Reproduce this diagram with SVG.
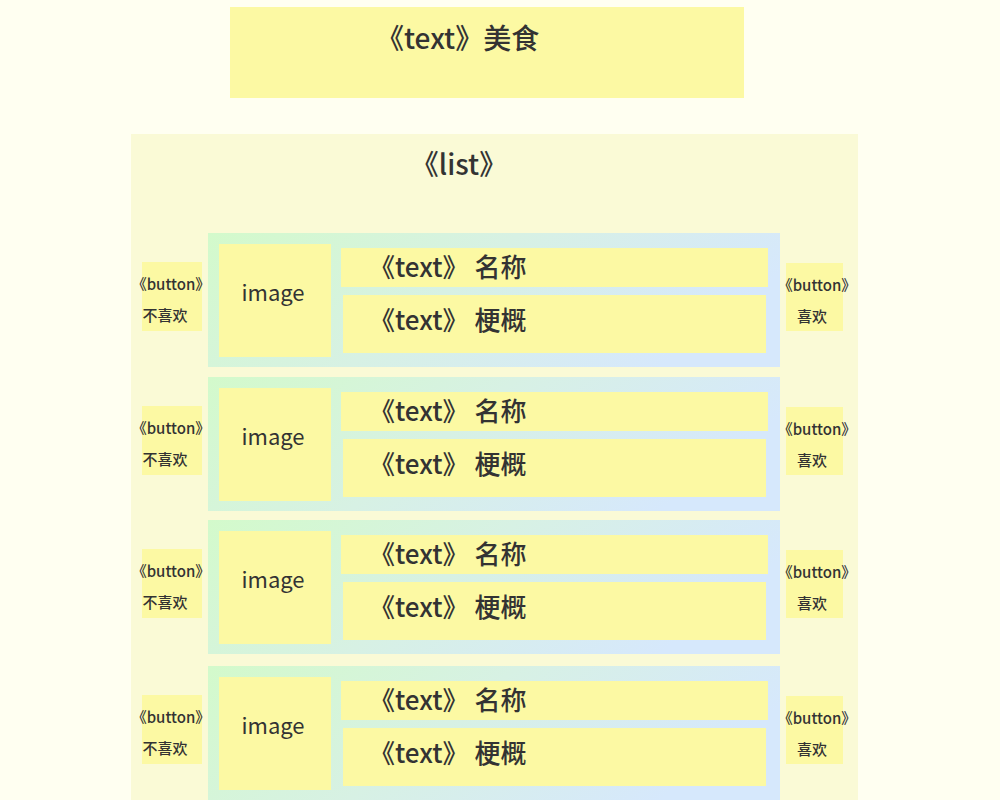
<svg xmlns="http://www.w3.org/2000/svg" width="1000" height="800" viewBox="0 0 1000 800">
<style>
.y{fill:#fcf9a3}
.t{font-family:"Noto Sans CJK SC","Noto Sans",sans-serif;fill:#333333;font-weight:500}
.big{font-size:28px}
.mid{font-size:26px}
.img{font-size:22px;text-anchor:middle;font-weight:400}
.btn{font-size:15px;text-anchor:middle}
</style>
<defs>
<linearGradient id="rowg" x1="0" y1="0" x2="1" y2="0.3">
<stop offset="0" stop-color="#d3facb"/>
<stop offset="0.5" stop-color="#d7f1e4"/>
<stop offset="1" stop-color="#d6e8fc"/>
</linearGradient>
</defs>
<rect width="1000" height="800" fill="#fffff1"/>
<g id="title">
<rect class="y" x="230" y="7" width="514" height="91"/>
<text class="t big" x="376" y="49">《text》美食</text>
</g>
<g id="list">
<rect x="131" y="134" width="727" height="670" fill="#fafad6"/>
<text class="t big" x="459" y="175" text-anchor="middle">《list》</text>
</g>
<g id="row1" transform="translate(0,0)">
<rect x="208" y="233" width="572" height="134" fill="url(#rowg)"/>
<rect class="y" x="219" y="244" width="112" height="113"/>
<text class="t img" x="273" y="301">image</text>
<rect class="y" x="341" y="248" width="427" height="39"/>
<text class="t mid" x="369" y="277">《text》 名称</text>
<rect class="y" x="343" y="295" width="423" height="58"/>
<text class="t mid" x="369" y="330">《text》 梗概</text>
<rect class="y" x="142" y="262" width="60" height="69"/>
<text class="t btn" x="171" y="290">《button》</text>
<text class="t btn" x="165" y="321">不喜欢</text>
<rect class="y" x="786" y="263" width="57" height="68"/>
<text class="t btn" x="817" y="291">《button》</text>
<text class="t btn" x="812" y="322">喜欢</text>
</g>
<g id="row2" transform="translate(0,144)">
<rect x="208" y="233" width="572" height="134" fill="url(#rowg)"/>
<rect class="y" x="219" y="244" width="112" height="113"/>
<text class="t img" x="273" y="301">image</text>
<rect class="y" x="341" y="248" width="427" height="39"/>
<text class="t mid" x="369" y="277">《text》 名称</text>
<rect class="y" x="343" y="295" width="423" height="58"/>
<text class="t mid" x="369" y="330">《text》 梗概</text>
<rect class="y" x="142" y="262" width="60" height="69"/>
<text class="t btn" x="171" y="290">《button》</text>
<text class="t btn" x="165" y="321">不喜欢</text>
<rect class="y" x="786" y="263" width="57" height="68"/>
<text class="t btn" x="817" y="291">《button》</text>
<text class="t btn" x="812" y="322">喜欢</text>
</g>
<g id="row3" transform="translate(0,287)">
<rect x="208" y="233" width="572" height="134" fill="url(#rowg)"/>
<rect class="y" x="219" y="244" width="112" height="113"/>
<text class="t img" x="273" y="301">image</text>
<rect class="y" x="341" y="248" width="427" height="39"/>
<text class="t mid" x="369" y="277">《text》 名称</text>
<rect class="y" x="343" y="295" width="423" height="58"/>
<text class="t mid" x="369" y="330">《text》 梗概</text>
<rect class="y" x="142" y="262" width="60" height="69"/>
<text class="t btn" x="171" y="290">《button》</text>
<text class="t btn" x="165" y="321">不喜欢</text>
<rect class="y" x="786" y="263" width="57" height="68"/>
<text class="t btn" x="817" y="291">《button》</text>
<text class="t btn" x="812" y="322">喜欢</text>
</g>
<g id="row4" transform="translate(0,433)">
<rect x="208" y="233" width="572" height="134" fill="url(#rowg)"/>
<rect class="y" x="219" y="244" width="112" height="113"/>
<text class="t img" x="273" y="301">image</text>
<rect class="y" x="341" y="248" width="427" height="39"/>
<text class="t mid" x="369" y="277">《text》 名称</text>
<rect class="y" x="343" y="295" width="423" height="58"/>
<text class="t mid" x="369" y="330">《text》 梗概</text>
<rect class="y" x="142" y="262" width="60" height="69"/>
<text class="t btn" x="171" y="290">《button》</text>
<text class="t btn" x="165" y="321">不喜欢</text>
<rect class="y" x="786" y="263" width="57" height="68"/>
<text class="t btn" x="817" y="291">《button》</text>
<text class="t btn" x="812" y="322">喜欢</text>
</g>
<g id="connectors"/>
</svg>
